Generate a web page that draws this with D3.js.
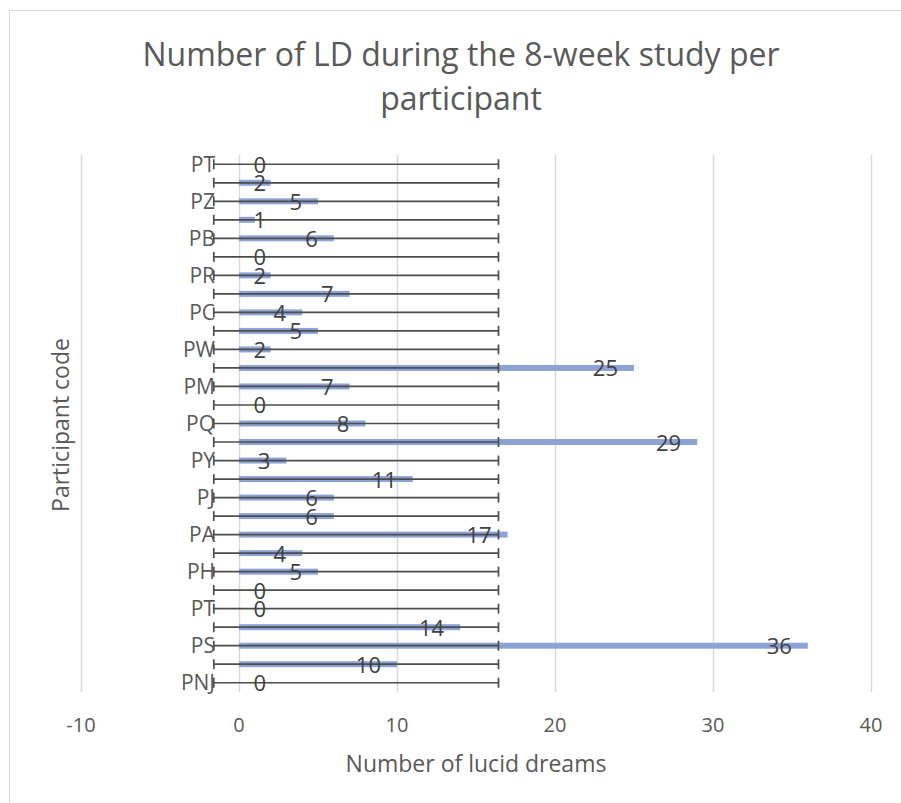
<!DOCTYPE html>
<html>
<head>
<meta charset="utf-8">
<script src="https://cdn.jsdelivr.net/npm/d3@7"></script>
<style>
  html, body { margin: 0; padding: 0; background: #fff; }
  svg { display: block; font-family: "Open Sans", "Noto Sans", sans-serif; }
</style>
</head>
<body>
<svg id="chart" width="901" height="803"></svg>
<script>
// Participants listed from the bottom row upward; blank codes are rows whose label is skipped.
const participants = ["PNJ", "", "PS", "", "PT", "", "PH", "", "PA", "", "PJ", "", "PY", "",
  "PQ", "", "PM", "", "PW", "", "PC", "", "PR", "", "PB", "", "PZ", "", "PT"];
const lucidDreams = [0, 10, 36, 14, 0, 0, 5, 4, 17, 6, 6, 11, 3, 29,
  8, 0, 7, 25, 2, 5, 4, 7, 2, 0, 6, 1, 5, 2, 0];
const xTicks = [-10, 0, 10, 20, 30, 40];
const titleLines = ["Number of LD during the 8-week study per", "participant"];

const svg = d3.select("#chart");
const textColor = "#595959";

// chart area outline
svg.append("rect")
  .attr("x", 9.5).attr("y", 10.5)
  .attr("width", 900).attr("height", 800)
  .attr("fill", "none").attr("stroke", "#d9d9d9").attr("stroke-width", 1);

const plot = { left: 81, right: 871, top: 155, bottom: 692 };

const x = d3.scaleLinear().domain([-10, 40]).range([plot.left, plot.right]);
const rows = d3.range(lucidDreams.length);
const y = d3.scaleBand().domain(rows).range([plot.bottom, plot.top]).padding(0);
const yc = i => y(i) + y.bandwidth() / 2;

// vertical gridlines
svg.append("g").selectAll("line").data(xTicks).join("line")
  .attr("x1", d => x(d) + 0.5).attr("x2", d => x(d) + 0.5)
  .attr("y1", plot.top).attr("y2", plot.bottom)
  .attr("stroke", "#d9d9d9").attr("stroke-width", 1.5);

// x tick labels
svg.append("g").selectAll("text").data(xTicks).join("text")
  .attr("x", d => x(d)).attr("y", 732)
  .attr("text-anchor", "middle")
  .attr("font-size", 20).attr("fill", textColor)
  .text(d => d);

// bars
svg.append("g").selectAll("rect").data(rows).join("rect")
  .attr("x", x(0))
  .attr("y", i => yc(i) - 3)
  .attr("width", i => x(lucidDreams[i]) - x(0))
  .attr("height", 6)
  .attr("fill", "#8EA3D5");

// error bars: mean ± standard deviation of the whole group
const mean = d3.mean(lucidDreams);
const sd = d3.deviation(lucidDreams);
const errLo = x(mean - sd), errHi = x(mean + sd);
const eb = svg.append("g").attr("stroke", "#4d4d4d").attr("stroke-width", 1.7);
eb.selectAll("line.bar").data(rows).join("line").attr("class", "bar")
  .attr("x1", errLo).attr("x2", errHi)
  .attr("y1", i => yc(i)).attr("y2", i => yc(i));
eb.selectAll("line.capl").data(rows).join("line").attr("class", "capl")
  .attr("x1", errLo).attr("x2", errLo)
  .attr("y1", i => yc(i) - 5).attr("y2", i => yc(i) + 5);
eb.selectAll("line.caph").data(rows).join("line").attr("class", "caph")
  .attr("x1", errHi).attr("x2", errHi)
  .attr("y1", i => yc(i) - 5).attr("y2", i => yc(i) + 5);

// category labels
svg.append("g").selectAll("text").data(rows).join("text")
  .attr("x", x(0) - 24).attr("y", i => yc(i) + 7.5)
  .attr("text-anchor", "end")
  .attr("font-size", 21).attr("fill", textColor)
  .text(i => participants[i]);

// value labels at the inside end of each bar
svg.append("g").selectAll("text").data(rows).join("text")
  .attr("x", i => Math.max(x(lucidDreams[i]) - 16, x(0) + 27))
  .attr("y", i => yc(i) + 8.5)
  .attr("text-anchor", "end")
  .attr("font-size", 22).attr("fill", "#404040")
  .text(i => lucidDreams[i]);

// title
svg.append("g").selectAll("text").data(titleLines).join("text")
  .attr("x", 461).attr("y", (d, i) => 66 + i * 44)
  .attr("text-anchor", "middle")
  .attr("font-size", 32).attr("fill", textColor)
  .text(d => d);

// axis titles
svg.append("text")
  .attr("x", 476).attr("y", 772)
  .attr("text-anchor", "middle")
  .attr("font-size", 23).attr("fill", textColor)
  .text("Number of lucid dreams");

svg.append("text")
  .attr("transform", "translate(69,425) rotate(-90)")
  .attr("text-anchor", "middle")
  .attr("font-size", 23).attr("fill", textColor)
  .text("Participant code");
</script>
</body>
</html>
